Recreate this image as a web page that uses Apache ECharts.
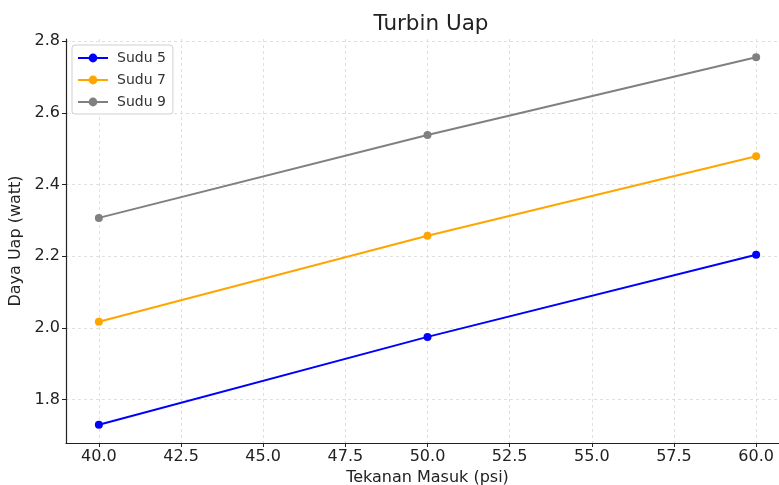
<!DOCTYPE html>
<html><head><meta charset="utf-8">
<script src="https://cdn.jsdelivr.net/npm/echarts@6/dist/echarts.min.js"></script>
<style>html,body{margin:0;padding:0;background:#fff}#c{width:779px;height:485px}</style>
</head><body><div id="c"></div>
<script>
var pressure = [40, 50, 60];
var seriesNames = ['Sudu 5', 'Sudu 7', 'Sudu 9'];
var sudu5 = [1.730, 1.975, 2.204];
var sudu7 = [2.017, 2.257, 2.479];
var sudu9 = [2.307, 2.538, 2.755];
var xTicks = [40, 42.5, 45, 47.5, 50, 52.5, 55, 57.5, 60];
var yTicks = [1.8, 2.0, 2.2, 2.4, 2.6, 2.8];
var colors = ['#0000ff', '#ffa500', '#808080'];

var chart = echarts.init(document.getElementById('c'), null, {renderer: 'canvas'});
var values = [sudu5, sudu7, sudu9];
var font = 'DejaVu Sans';
var series = values.map(function (v, i) {
  return {
    name: seriesNames[i], type: 'line',
    data: v.map(function (y, j) { return [pressure[j], y]; }),
    symbol: 'circle', symbolSize: 8, showSymbol: true,
    lineStyle: {width: 2, color: colors[i]},
    itemStyle: {color: colors[i]},
    emphasis: {disabled: true}, animation: false
  };
});
chart.setOption({
  animation: false,
  title: {text: 'Turbin Uap', left: 426, top: 8, textAlign: 'center',
    textStyle: {fontFamily: font, fontSize: 21.5, fontWeight: 'normal', color: '#222'}},
  legend: {
    left: 72, top: 45, orient: 'vertical', itemGap: 8, itemWidth: 30, itemHeight: 11,
    padding: [6, 7, 5, 5], borderColor: '#d0d0d0', borderWidth: 1, borderRadius: 3,
    backgroundColor: '#fff',
    textStyle: {fontFamily: font, fontSize: 14, color: '#333', padding: [0, 0, 0, 4]},
    data: seriesNames
  },
  grid: {left: 66, right: -10, top: 39, bottom: 42, containLabel: false, outerBoundsMode: 'none'},
  xAxis: {
    type: 'value', min: 39, max: 61,
    name: 'Tekanan Masuk (psi)', nameLocation: 'middle', nameGap: 27,
    nameTextStyle: {fontFamily: font, fontSize: 16, color: '#222'},
    axisLine: {show: true, lineStyle: {color: '#222', width: 1.2}},
    axisTick: {show: true, customValues: xTicks, length: 4, lineStyle: {color: '#222'}},
    axisLabel: {customValues: xTicks, fontFamily: font, fontSize: 16, color: '#222', margin: 6,
      formatter: function (v) { return v.toFixed(1); }},
    splitLine: {show: true, lineStyle: {color: '#d8d8d8', type: [3, 3], width: 0.8}}
  },
  yAxis: {
    type: 'value', min: 1.679, max: 2.806,
    name: 'Daya Uap (watt)', nameLocation: 'middle', nameGap: 40, nameRotate: 90,
    nameTextStyle: {fontFamily: font, fontSize: 16, color: '#222'},
    axisLine: {show: true, lineStyle: {color: '#222', width: 1.2}},
    axisTick: {show: true, customValues: yTicks, length: 4, lineStyle: {color: '#222'}},
    axisLabel: {customValues: yTicks, fontFamily: font, fontSize: 16, color: '#222', margin: 6,
      formatter: function (v) { return v.toFixed(1); }},
    splitLine: {show: true, lineStyle: {color: '#d8d8d8', type: [3, 3], width: 0.8}}
  },
  series: series
});
</script></body></html>
